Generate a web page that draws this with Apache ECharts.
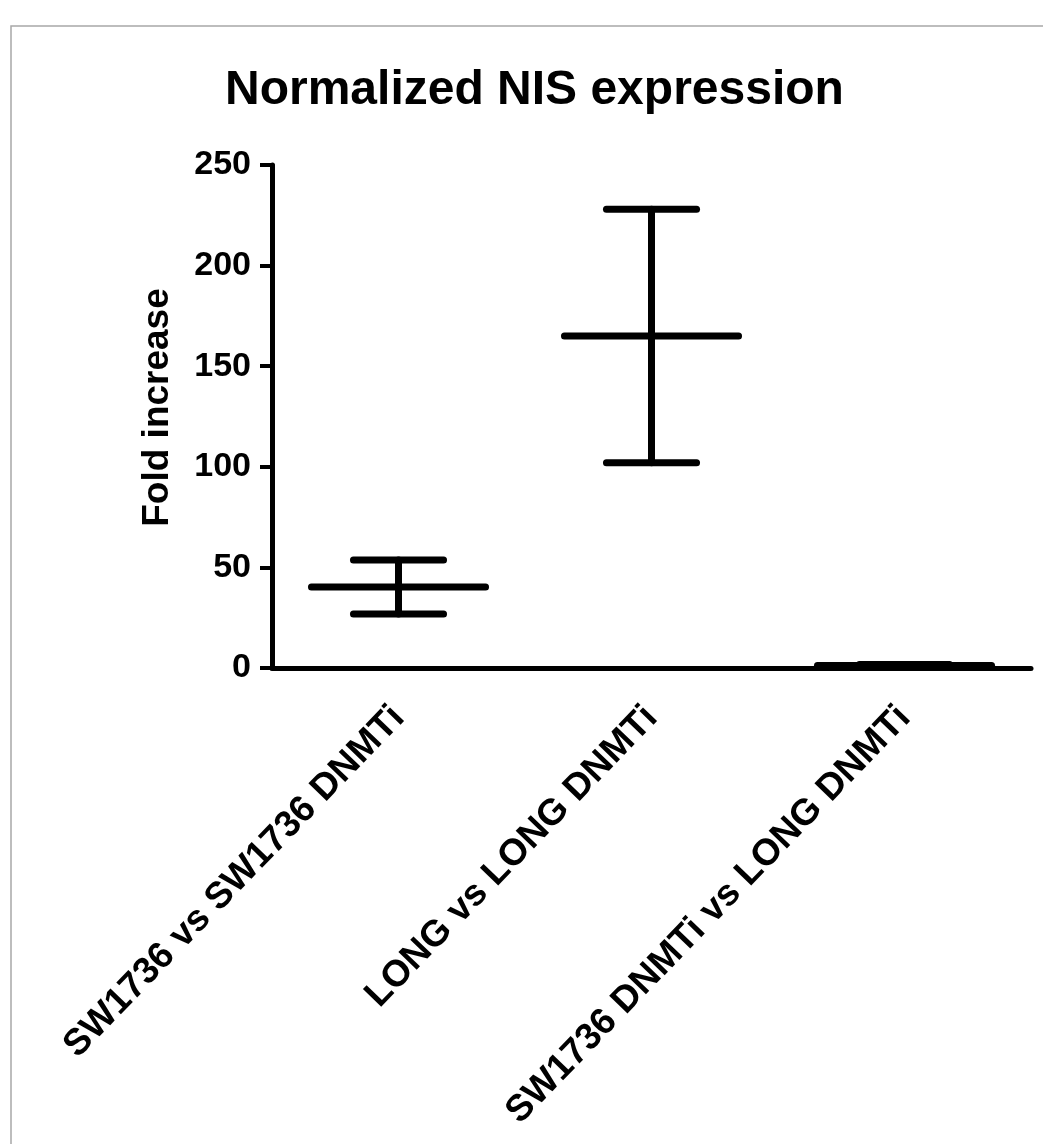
<!DOCTYPE html>
<html>
<head>
<meta charset="utf-8">
<title>Normalized NIS expression</title>
<script src="https://cdn.jsdelivr.net/npm/echarts@6.0.0/dist/echarts.min.js"></script>
<style>
  html, body { margin: 0; padding: 0; background: #fff; }
  #chart { width: 1043px; height: 1144px; }
</style>
</head>
<body>
<div id="chart"></div>
<script>
// groups on the x axis
const categories = [
  "SW1736 vs SW1736 DNMTi",
  "LONG vs LONG DNMTi",
  "SW1736 DNMTi vs LONG DNMTi",
];
// mean fold increase and error bar ends
const means = [40.3, 165, 1.3];
const lows = [26.8, 102, 0.8];
const highs = [53.7, 228, 1.8];

const yTicks = { min: 0, max: 250, interval: 50 };

const font = "'Liberation Sans', Arial, sans-serif";

const chart = echarts.init(document.getElementById("chart"));

const option = {
  backgroundColor: "#ffffff",
  animation: false,
  title: {
    text: "Normalized NIS expression",
    left: 220,
    top: 62,
    textStyle: {
      fontFamily: font,
      fontWeight: "bold",
      fontSize: 48,
      color: "#000",
    },
  },
  graphic: [
    {
      // thin frame round the figure
      type: "rect",
      shape: { x: 11, y: 26, width: 1100, height: 1200 },
      style: { fill: "none", stroke: "#a8a8a8", lineWidth: 1.5 },
      silent: true,
    },
  ],
  grid: {
    left: 272,
    right: 12,
    top: 165,
    bottom: 476,
  },
  xAxis: {
    type: "category",
    data: categories,
    boundaryGap: true,
    axisLine: { lineStyle: { color: "#000", width: 5, cap: "round" } },
    axisTick: {
      alignWithLabel: true,
      length: 14,
      lineStyle: { color: "#000", width: 4 },
    },
    axisLabel: {
      rotate: 46,
      margin: 44,
      interval: 0,
      color: "#000",
      fontFamily: font,
      fontWeight: "bold",
      fontSize: 37,
    },
  },
  yAxis: {
    type: "value",
    min: yTicks.min,
    max: yTicks.max,
    interval: yTicks.interval,
    name: "Fold increase",
    nameLocation: "middle",
    nameRotate: 90,
    nameGap: 96,
    nameTextStyle: {
      color: "#000",
      fontFamily: font,
      fontWeight: "bold",
      fontSize: 37,
      padding: [0, 0, 0, 18],
    },
    splitLine: { show: false },
    axisLine: { show: true, lineStyle: { color: "#000", width: 5 } },
    axisTick: { show: true, length: 12, lineStyle: { color: "#000", width: 4 } },
    axisLabel: {
      margin: 21,
      color: "#000",
      fontFamily: font,
      fontWeight: "bold",
      fontSize: 34,
    },
  },
  series: [
    {
      type: "custom",
      data: categories.map((c, i) => [i, means[i], lows[i], highs[i]]),
      renderItem: function (params, api) {
        const band = api.size([1, 0])[0];
        const mid = api.coord([api.value(0), api.value(1)]);
        const lo = api.coord([api.value(0), api.value(2)]);
        const hi = api.coord([api.value(0), api.value(3)]);
        const meanHalf = band * 0.344;
        const capHalf = band * 0.178;
        const style = { stroke: "#000", lineWidth: 7, lineCap: "round" };
        return {
          type: "group",
          children: [
            {
              type: "line",
              shape: { x1: hi[0], y1: hi[1], x2: lo[0], y2: lo[1] },
              style: style,
            },
            {
              type: "line",
              shape: { x1: hi[0] - capHalf, y1: hi[1], x2: hi[0] + capHalf, y2: hi[1] },
              style: style,
            },
            {
              type: "line",
              shape: { x1: lo[0] - capHalf, y1: lo[1], x2: lo[0] + capHalf, y2: lo[1] },
              style: style,
            },
            {
              type: "line",
              shape: { x1: mid[0] - meanHalf, y1: mid[1], x2: mid[0] + meanHalf, y2: mid[1] },
              style: style,
            },
          ],
        };
      },
      z: 3,
    },
  ],
};

chart.setOption(option);
</script>
</body>
</html>
